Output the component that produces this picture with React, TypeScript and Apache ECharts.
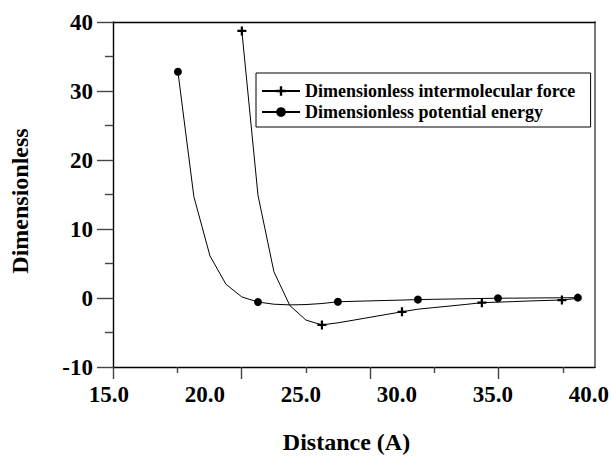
import React, { useEffect, useRef } from "react";
import * as echarts from "echarts";

// Distance (Å) of the plotted vertices
const potentialX = [18.6, 19.43, 20.27, 21.1, 21.93, 22.77, 23.6, 24.43, 25.27, 26.1, 26.93, 27.77, 28.6, 29.43, 30.27, 31.1, 31.93, 32.77, 33.6, 34.43, 35.27, 36.1, 36.93, 37.77, 38.6, 39.43];
const potentialY = [32.8, 14.7, 6.1, 2.0, 0.15, -0.58, -0.9, -1.0, -0.95, -0.8, -0.55, -0.48, -0.42, -0.36, -0.3, -0.23, -0.19, -0.15, -0.11, -0.07, -0.03, -0.02, 0, 0.02, 0.03, 0.05];

const forceX = [21.93, 22.77, 23.6, 24.43, 25.27, 26.1, 26.93, 27.77, 28.6, 29.43, 30.27, 31.1, 31.93, 32.77, 33.6, 34.43, 35.27, 36.1, 36.93, 37.77, 38.6, 39.43];
const forceY = [38.7, 14.9, 3.8, -1.1, -3.2, -3.9, -3.6, -3.2, -2.8, -2.4, -2.0, -1.62, -1.39, -1.16, -0.93, -0.68, -0.6, -0.52, -0.43, -0.36, -0.29, -0.05];

const xTickLabels = [15, 20, 25, 30, 35, 40];
const seriesNames = ["Dimensionless intermolecular force", "Dimensionless potential energy"];
const xTitle = "Distance (A)";
const yTitle = "Dimensionless";

const FONT = "'Times New Roman', 'Liberation Serif', serif";
const PLUS = "path://M3,0L5,0L5,3L8,3L8,5L5,5L5,8L3,8L3,5L0,5L0,3L3,3Z";

function buildData(xs: number[], ys: number[]) {
  return xs.map((x, i) =>
    i % 5 === 0 ? { value: [x, ys[i]] } : { value: [x, ys[i]], symbol: "none" }
  );
}

export default function App() {
  const ref = useRef<HTMLDivElement>(null);
  useEffect(() => {
    if (!ref.current) return;
    const chart = echarts.init(ref.current, null, { renderer: "svg" });
    const labelFont = { fontFamily: FONT, fontWeight: "bold" as const, fontSize: 23, color: "#000" };
    chart.setOption({
      animation: false,
      backgroundColor: "#fff",
      grid: [
        { left: 108.8, right: 23.2, top: 22, bottom: 94, containLabel: false, outerBoundsMode: "none" },
        { left: 113, right: 17, top: 22, bottom: 94, containLabel: false, outerBoundsMode: "none" },
      ],
      xAxis: [
        {
          type: "value", gridIndex: 0, min: xTickLabels[0], max: xTickLabels[xTickLabels.length - 1], interval: 5,
          axisLine: { show: false, onZero: false }, axisTick: { show: false }, splitLine: { show: false },
          axisLabel: { ...labelFont, margin: 16, formatter: (v: number) => v.toFixed(1), showMinLabel: true, showMaxLabel: true },
        },
        {
          type: "value", gridIndex: 1, min: 0, max: 7.5, position: "bottom",
          axisLine: { show: true, onZero: false, lineStyle: { color: "#000", width: 1.4 } },
          axisTick: { show: true, customValues: [0, 2, 4, 6], length: 12, inside: false, lineStyle: { color: "#444", width: 1.4 } },
          axisLabel: { show: false }, splitLine: { show: false },
        },
        {
          type: "value", gridIndex: 1, min: 0, max: 7.5, position: "bottom",
          axisLine: { show: false, onZero: false },
          axisTick: { show: true, customValues: [1, 3, 5, 7], length: 6, inside: false, lineStyle: { color: "#444", width: 1.4 } },
          axisLabel: { show: false }, splitLine: { show: false },
        },
        {
          type: "value", gridIndex: 1, min: 0, max: 7.5, position: "top",
          axisLine: { show: true, onZero: false, lineStyle: { color: "#000", width: 1.4 } },
          axisTick: { show: false }, axisLabel: { show: false }, splitLine: { show: false },
        },
      ],
      yAxis: [
        {
          type: "value", gridIndex: 0, min: -10, max: 40, interval: 10,
          axisLine: { show: false, onZero: false }, axisTick: { show: false }, axisLabel: { show: false }, splitLine: { show: false },
        },
        {
          type: "value", gridIndex: 1, min: -10, max: 40, interval: 10, position: "left",
          axisLine: { show: true, onZero: false, lineStyle: { color: "#000", width: 1.4 } },
          axisTick: { show: true, length: 16, inside: false, lineStyle: { color: "#444", width: 1.4 } },
          minorTick: { show: true, splitNumber: 2, length: 8, lineStyle: { color: "#444", width: 1.4 } },
          axisLabel: { ...labelFont, margin: 20 },
          splitLine: { show: false },
        },
        {
          type: "value", gridIndex: 1, min: -10, max: 40, interval: 10, position: "right",
          axisLine: { show: true, onZero: false, lineStyle: { color: "#7a7a7a", width: 2 } },
          axisTick: { show: false }, axisLabel: { show: false }, splitLine: { show: false },
        },
      ],
      legend: {
        orient: "vertical",
        left: 256,
        top: 73,
        data: seriesNames,
        borderColor: "#000",
        borderWidth: 1,
        padding: [9, 15, 6, 5],
        itemGap: 3,
        itemWidth: 38,
        itemHeight: 12,
        textStyle: { fontFamily: FONT, fontWeight: "bold", fontSize: 18, lineHeight: 18, color: "#000" },
      },
      graphic: [
        {
          type: "text", x: 20, y: 201, rotation: Math.PI / 2,
          style: { text: yTitle, fontFamily: FONT, fontWeight: "bold", fontSize: 24, fill: "#000", align: "center", verticalAlign: "middle" },
        },
        {
          type: "text", x: 346.5, y: 442,
          style: { text: xTitle, fontFamily: FONT, fontWeight: "bold", fontSize: 24, fill: "#000", align: "center", verticalAlign: "middle" },
        },
      ],
      series: [
        {
          name: seriesNames[0], type: "line", xAxisIndex: 0, yAxisIndex: 0,
          data: buildData(forceX, forceY),
          symbol: PLUS, symbolSize: 9, showAllSymbol: true,
          lineStyle: { color: "#000", width: 1 }, itemStyle: { color: "#000" },
        },
        {
          name: seriesNames[1], type: "line", xAxisIndex: 0, yAxisIndex: 0,
          data: buildData(potentialX, potentialY),
          symbol: "circle", symbolSize: 8, showAllSymbol: true,
          lineStyle: { color: "#000", width: 1 }, itemStyle: { color: "#000" },
        },
      ],
    });
    return () => chart.dispose();
  }, []);
  return <div ref={ref} style={{ position: "fixed", left: 0, top: 0, width: 612, height: 461 }} />;
}
